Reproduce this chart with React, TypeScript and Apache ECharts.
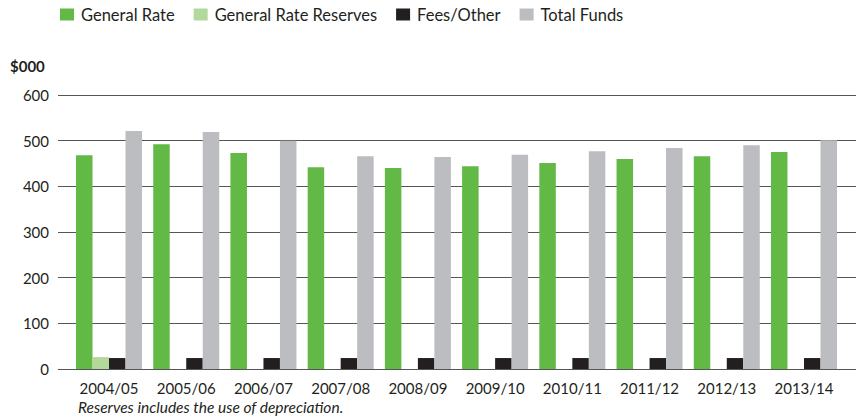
import React, { useEffect, useRef } from "react";
import * as echarts from "echarts";

const categories = ["2004/05", "2005/06", "2006/07", "2007/08", "2008/09", "2009/10", "2010/11", "2011/12", "2012/13", "2013/14"];
const generalRate = [468, 492, 473, 442, 440, 444, 451, 460, 466, 475];
const generalRateReserves = [26, null, null, null, null, null, null, null, null, null];
const feesOther = [24, 24, 24, 24, 24, 24, 24, 24, 24, 24];
const totalFunds = [521, 519, 500, 466, 464, 469, 477, 484, 490, 501];
const yTicks = { min: 0, max: 600, interval: 100 };

const FONT = "Lato, 'Open Sans', sans-serif";

export default function App() {
  const ref = useRef<HTMLDivElement>(null);
  useEffect(() => {
    if (!ref.current) return;
    const chart = echarts.init(ref.current, null, { renderer: "svg" });
    const bar = (name: string, data: (number | null)[], color: string) => ({
      name,
      type: "bar",
      xAxisIndex: 1,
      yAxisIndex: 1,
      data,
      barWidth: 16.5,
      barGap: "0%",
      itemStyle: { color },
    });
    chart.setOption({
      animation: false,
      textStyle: { fontFamily: FONT },
      legend: {
        left: 55,
        top: 1,
        itemWidth: 14,
        itemHeight: 12,
        itemGap: 19,
        icon: "rect",
        textStyle: { fontSize: 16.5, color: "#231f20", fontFamily: FONT, padding: [0, 0, 0, 2] },
        data: ["General Rate", "General Rate Reserves", "Fees/Other", "Total Funds"],
      },
      grid: [
        { left: 58, right: 8, top: 95, bottom: 51 },
        { left: 70.4, right: 21.4, top: 95, bottom: 51 },
      ],
      xAxis: [
        { type: "category", gridIndex: 0, data: [""], show: false },
        {
          type: "category",
          gridIndex: 1,
          data: categories,
          axisLine: { show: false },
          axisTick: { show: false },
          axisLabel: { fontSize: 15, color: "#231f20", margin: 11, fontFamily: FONT },
        },
      ],
      yAxis: [
        {
          type: "value",
          gridIndex: 0,
          min: yTicks.min,
          max: yTicks.max,
          interval: yTicks.interval,
          axisLine: { show: false },
          axisTick: { show: false },
          axisLabel: { fontSize: 15, color: "#231f20", margin: 9, fontFamily: FONT },
          splitLine: { lineStyle: { color: "#555", width: 1 } },
        },
        {
          type: "value",
          gridIndex: 1,
          min: yTicks.min,
          max: yTicks.max,
          interval: yTicks.interval,
          show: false,
          splitLine: { show: false },
        },
      ],
      graphic: [
        {
          type: "text",
          left: 10,
          top: 58,
          style: { text: "$000", font: `bold 15px ${FONT}`, fill: "#231f20" },
        },
        {
          type: "text",
          left: 78,
          top: 399,
          style: { text: "Reserves includes the use of depreciation.", font: `italic 15.5px ${FONT}`, fill: "#231f20" },
        },
      ],
      series: [
        bar("General Rate", generalRate, "#62b946"),
        bar("General Rate Reserves", generalRateReserves, "#b3d89c"),
        bar("Fees/Other", feesOther, "#231f20"),
        bar("Total Funds", totalFunds, "#bcbdc0"),
      ],
    });
    return () => chart.dispose();
  }, []);
  return <div ref={ref} style={{ width: 864, height: 420, position: "absolute", left: 0, top: 0 }} />;
}
